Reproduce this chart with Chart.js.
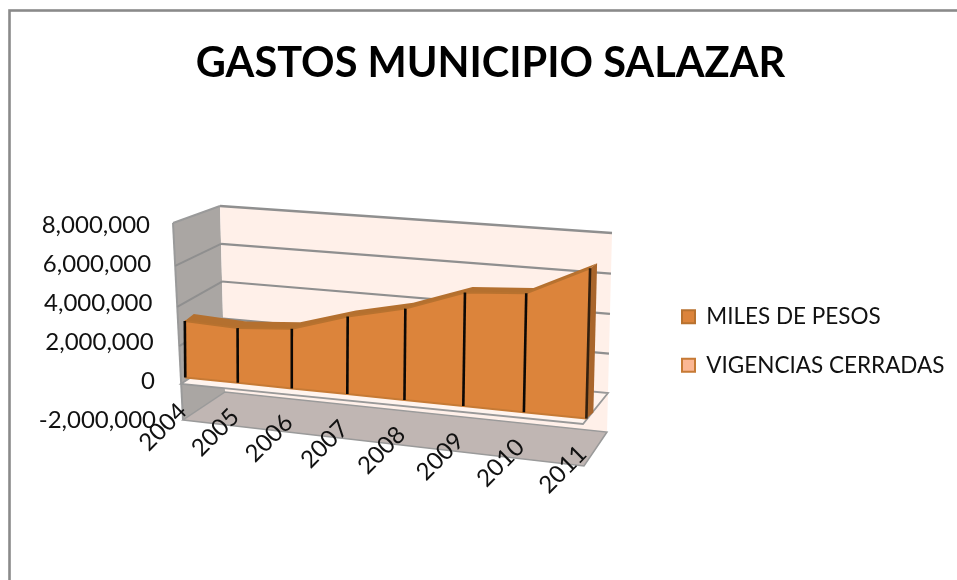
<!DOCTYPE html>
<html><head><meta charset="utf-8">
<style>html,body{margin:0;padding:0;background:#fff}canvas{display:block}</style>
<script src="https://cdn.jsdelivr.net/npm/chart.js@4"></script>
</head><body><canvas id="c" width="957" height="580"></canvas>
<script>
const years = ['2004','2005','2006','2007','2008','2009','2010','2011'];
const milesDePesos = [2950000,2820000,3030000,3880000,4500000,5500000,5680000,7060000];
const vigenciasCerradas = [0,0,0,0,0,0,0,0];
const yTicksMin = -2000000, yTicksMax = 8000000, yTicksStep = 2000000;

function quad(p0,p1,p2,p3){
  const [x0,y0]=p0,[x1,y1]=p1,[x2,y2]=p2,[x3,y3]=p3;
  const dx1=x1-x2,dx2=x3-x2,sx=x0-x1+x2-x3,dy1=y1-y2,dy2=y3-y2,sy=y0-y1+y2-y3;
  const den=dx1*dy2-dx2*dy1,g=(sx*dy2-dx2*sy)/den,h=(dx1*sy-sx*dy1)/den;
  const a=x1-x0+g*x1,b=x3-x0+h*x3,d=y1-y0+g*y1,e=y3-y0+h*y3;
  return (s,t)=>{const w=g*s+h*t+1;return [(a*s+b*t+x0)/w,(d*s+e*t+y0)/w];};
}
// unit square (s along categories, t along value axis) -> screen planes
const frontPlane = quad([185.6,415.5],[585.3,460.5],[590.6,248],[184,223]);
const backCorners = [[225,392],[607,432],[612,233],[220,206]];
const sideCorners = [[225,392],[183,420],[173,223],[220,206]];
const floorCorners = [[183,420],[584,466],[607,432],[225,392]];
const backPlane = quad(...backCorners), sidePlane = quad(...sideCorners);

function poly(ctx,pts,fill,stroke,lw){
  ctx.beginPath();pts.forEach((p,i)=>i?ctx.lineTo(p[0],p[1]):ctx.moveTo(p[0],p[1]));ctx.closePath();
  if(fill){ctx.fillStyle=fill;ctx.fill();}
  if(stroke){ctx.strokeStyle=stroke;ctx.lineWidth=lw||1;ctx.stroke();}
}
function seg(ctx,a,b,c,w){ctx.beginPath();ctx.moveTo(a[0],a[1]);ctx.lineTo(b[0],b[1]);ctx.strokeStyle=c;ctx.lineWidth=w;ctx.stroke();}
const tOf = v => (v-yTicksMin)/(yTicksMax-yTicksMin);

class FloorScale extends Chart.CategoryScale{
  _computeLabelArea(){return undefined;}
  _computeLabelItems(ca){
    const items=super._computeLabelItems(ca),n=this.ticks.length-1;
    items.forEach((it,i)=>{const p=frontPlane(i/n,tOf(-1700000));it.options.translation=[p[0]-13,p[1]-12.5+(i/n)*-2];});
    return items;
  }
}
FloorScale.id='floor';FloorScale.defaults=Chart.CategoryScale.defaults;
class WallScale extends Chart.LinearScale{
  _computeLabelItems(ca){
    const items=super._computeLabelItems(ca);
    items.forEach(it=>{const y=it.options.translation[1];it.options.translation[0]+=(y-224)*6/195;it.options.translation[1]+=1;});
    return items;
  }
}
WallScale.id='wall';WallScale.defaults=Chart.LinearScale.defaults;
Chart.register(FloorScale,WallScale);

const stage={
  id:'stage',
  afterLayout(chart){
    const lg=chart.legend;lg.left=656;lg.right=957;
    const dy=341-(lg.top+lg.bottom)/2;lg.top+=dy;lg.bottom+=dy;
    chart.titleBlock.left+=12;chart.titleBlock.right+=12;
  },
  beforeDraw(chart){
    const ctx=chart.ctx;
    ctx.save();
    ctx.fillStyle='#fff';ctx.fillRect(0,0,957,580);
    ctx.strokeStyle='#8a8a8a';ctx.lineWidth=2.6;ctx.strokeRect(9.5,10.5,960,600);
    const ys=chart.scales.y;
    poly(ctx,sideCorners,'#aaa6a3');
    poly(ctx,backCorners,'#fff0e9');
    poly(ctx,floorCorners,'#c0b6b3','#9a9a9a',1.5);
    seg(ctx,sideCorners[3],backCorners[2],'#8f8f8f',2.5);
    seg(ctx,sideCorners[2],sideCorners[3],'#9a9a9a',2);
    seg(ctx,sideCorners[2],sideCorners[1],'#9a9a9a',2);
    ys.ticks.forEach(tk=>{
      const t=tOf(tk.value);
      if(t<=0||t>=1) return;
      const bl=backPlane(0,t),br=backPlane(1,t),sf=sidePlane(1,t);
      if(tk.value===0){
        poly(ctx,[sf,bl,br,[583,424]],'#fff4ee','#999',1.8);
      }else{
        seg(ctx,bl,br,'#8f8f8f',2.2);
        seg(ctx,sf,bl,'#8f8f8f',2);
      }
    });
    ctx.restore();
  },
  afterDatasetsUpdate(chart){
    const xs=chart.scales.x,ys=chart.scales.y;
    chart.data.datasets.forEach((d,di)=>{
      chart.getDatasetMeta(di).data.forEach(pt=>{
        const s=(pt.x-xs.left)/(xs.right-xs.left),t=(ys.bottom-pt.y)/(ys.bottom-ys.top);
        const p=frontPlane(s,t);pt.x=p[0];pt.y=p[1];
      });
    });
  },
  beforeDatasetsDraw(chart){
    const ctx=chart.ctx,top=chart.getDatasetMeta(0).data,base=chart.getDatasetMeta(1).data,n=top.length-1;
    const off=i=>[9-2*i/n,-7+2*i/n];
    const back=top.map((p,i)=>[p.x+off(i)[0],p.y+off(i)[1]]);
    ctx.save();
    poly(ctx,[...top.map(p=>[p.x,p.y]),...back.slice().reverse()],'#b4702f');
    const rb=base[n];
    poly(ctx,[[top[n].x,top[n].y],back[n],[rb.x+7,rb.y-6],[rb.x,rb.y]],'#a9652b');
    poly(ctx,[...top.map(p=>[p.x,p.y]),...base.slice().reverse().map(p=>[p.x,p.y])],'#dc843b');
    ctx.restore();
  },
  afterDatasetsDraw(chart){
    const ctx=chart.ctx,top=chart.getDatasetMeta(0).data,base=chart.getDatasetMeta(1).data;
    ctx.save();
    top.forEach((p,i)=>seg(ctx,[p.x,p.y],[base[i].x,base[i].y],i===top.length-1?'#33200f':'#0c0805',2.6));
    ctx.restore();
  }
};

new Chart(document.getElementById('c'),{
  type:'line',
  data:{labels:years,datasets:[
    {label:'MILES DE PESOS',data:milesDePesos,backgroundColor:'#dc843b',borderColor:'#b8722f',borderWidth:2,pointRadius:0,tension:0,fill:false,clip:false},
    {label:'VIGENCIAS CERRADAS',data:vigenciasCerradas,backgroundColor:'#fbb794',borderColor:'#c67a35',borderWidth:2,pointRadius:0,tension:0,fill:false,clip:false}
  ]},
  plugins:[stage],
  options:{
    responsive:false,animation:false,
    layout:{padding:0},
    scales:{
      x:{type:'floor',offset:false,afterFit(s){s.height=161;},grid:{display:false},border:{display:false},
        ticks:{autoSkip:false,minRotation:45,maxRotation:45,color:'#111',padding:0,font:{family:'Lato',size:24}}},
      y:{type:'wall',position:'left',min:yTicksMin,max:yTicksMax,afterFit(s){s.width=173;},grid:{display:false},border:{display:false},
        ticks:{stepSize:yTicksStep,color:'#111',padding:15,font:{family:'Lato',size:24},callback:v=>v.toLocaleString('en-US')}}
    },
    plugins:{
      tooltip:{enabled:false},
      title:{display:true,text:'GASTOS MUNICIPIO SALAZAR',color:'#000',font:{family:'Lato',size:41.5,weight:'bold'},padding:{top:39,bottom:135.5},lineHeight:1.2},
      legend:{display:true,position:'right',labels:{boxWidth:13,boxHeight:13,padding:26,color:'#111',font:{family:'Lato',size:22.5}}}
    }
  }
});
</script></body></html>
